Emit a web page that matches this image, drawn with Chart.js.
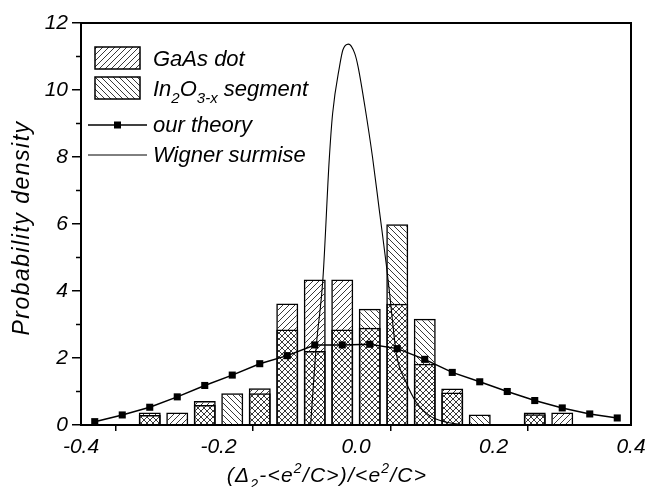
<!DOCTYPE html>
<html lang="en">
<head>
  <meta charset="UTF-8">
  <title>Probability density</title>
  <script src="https://cdn.jsdelivr.net/npm/chart.js"></script>
  <style>
    html, body { margin: 0; padding: 0; background: #fff; }
  </style>
</head>
<body>
  <canvas id="chart" width="657" height="487"></canvas>

  <script>
    // histogram bins (centre of each bin) and the two measured densities
    const binCenters = [-0.30, -0.26, -0.22, -0.18, -0.14, -0.10, -0.06, -0.02, 0.02, 0.06, 0.10, 0.14, 0.18, 0.22, 0.26, 0.30];
    const gaasDot    = [0.37, 0.37, 0.72, null, 1.10, 3.63, 4.34, 4.34, 2.90, 3.62, 1.83, 1.09, null, null, 0.37, 0.37];
    const inSegment  = [0.30, null, 0.60, 0.95, 0.95, 2.85, 2.21, 2.85, 3.47, 5.99, 3.17, 0.97, 0.31, null, 0.32, null];

    // "our theory" curve
    const theoryX = [-0.38, -0.34, -0.30, -0.26, -0.22, -0.18, -0.14, -0.10, -0.06, -0.02, 0.02, 0.06, 0.10, 0.14, 0.18, 0.22, 0.26, 0.30, 0.34, 0.38];
    const theoryY = [0.10, 0.30, 0.53, 0.84, 1.18, 1.49, 1.83, 2.07, 2.39, 2.39, 2.41, 2.28, 1.96, 1.57, 1.29, 1.00, 0.73, 0.51, 0.33, 0.21];

    // Wigner surmise
    const wignerX = [-0.066, -0.058, -0.048, -0.039, -0.034, -0.024, -0.019, -0.011, -0.002, 0.003, 0.013, 0.024, 0.034, 0.044, 0.049, 0.059, 0.073, 0.088, 0.107, 0.132, 0.160];
    const wignerY = [0, 2.3, 4.4, 7.9, 9.3, 10.7, 11.2, 11.37, 11.1, 10.7, 9.5, 8.0, 6.4, 4.8, 3.9, 2.1, 1.27, 0.67, 0.28, 0.08, 0];

    const xMin = -0.4, xMax = 0.4, xStep = 0.1;
    const yMin = 0, yMax = 12, yStep = 2;

    const FONT = "'Liberation Sans', Arial, Helvetica, sans-serif";
    const canvas = document.getElementById('chart');
    const ctx = canvas.getContext('2d');

    function makeHatch(forward) {
      const s = 6;
      const c = document.createElement('canvas');
      c.width = s; c.height = s;
      const g = c.getContext('2d');
      g.strokeStyle = '#222';
      g.lineWidth = 0.9;
      g.beginPath();
      if (forward) {           // "/"
        g.moveTo(0, s); g.lineTo(s, 0);
        g.moveTo(-1, 1); g.lineTo(1, -1);
        g.moveTo(s - 1, s + 1); g.lineTo(s + 1, s - 1);
      } else {                 // "\"
        g.moveTo(0, 0); g.lineTo(s, s);
        g.moveTo(s - 1, -1); g.lineTo(s + 1, 1);
        g.moveTo(-1, s - 1); g.lineTo(1, s + 1);
      }
      g.stroke();
      return ctx.createPattern(c, 'repeat');
    }
    const hatchGaAs = makeHatch(true);
    const hatchIn = makeHatch(false);

    const pts = (xs, ys) => xs.map((x, i) => ({ x, y: ys[i] }));

    // text with sub/superscripts: parts = [[text, 0 normal | 1 sub | 2 sup], ...]
    function richWidth(c, parts, size) {
      let w = 0;
      parts.forEach(([t, m]) => {
        c.font = `italic ${m ? Math.round(size * 0.68) : size}px ${FONT}`;
        w += c.measureText(t).width;
      });
      return w;
    }
    function drawRich(c, parts, x, y, size) {
      c.textAlign = 'left';
      c.textBaseline = 'alphabetic';
      parts.forEach(([t, m]) => {
        const sz = m ? Math.round(size * 0.68) : size;
        c.font = `italic ${sz}px ${FONT}`;
        const dy = m === 1 ? size * 0.32 : m === 2 ? -size * 0.42 : 0;
        c.fillText(t, x, y + dy);
        x += c.measureText(t).width;
      });
    }

    const decor = {
      id: 'decor',
      afterDraw(chart) {
        const c = chart.ctx;
        const a = chart.chartArea;
        const ys = chart.scales.y;
        c.save();
        c.strokeStyle = '#000';
        c.fillStyle = '#000';

        // frame
        c.lineWidth = 2;
        c.strokeRect(a.left, a.top, a.right - a.left, a.bottom - a.top);

        // minor y ticks
        c.lineWidth = 1.5;
        for (let v = yMin + yStep / 2; v < yMax; v += yStep) {
          const py = ys.getPixelForValue(v);
          c.beginPath();
          c.moveTo(a.left - 5, py);
          c.lineTo(a.left, py);
          c.stroke();
        }

        // legend
        const size = 22;
        const bx = 95, bw = 45, bh = 22, tx = 153;
        [[hatchGaAs, 58, [['GaAs dot', 0]]],
         [hatchIn, 88, [['In', 0], ['2', 1], ['O', 0], ['3-x', 1], [' segment', 0]]]
        ].forEach(([pat, cy, parts]) => {
          c.fillStyle = pat;
          c.fillRect(bx, cy - bh / 2, bw, bh);
          c.lineWidth = 1.5;
          c.strokeRect(bx, cy - bh / 2, bw, bh);
          c.fillStyle = '#000';
          drawRich(c, parts, tx, cy + 8, size);
        });
        [[125, true, 'our theory'], [155, false, 'Wigner surmise']].forEach(([cy, marker, label]) => {
          c.lineWidth = marker ? 1.5 : 1;
          c.beginPath();
          c.moveTo(88, cy);
          c.lineTo(147, cy);
          c.stroke();
          if (marker) c.fillRect(114, cy - 3.5, 7, 7);
          drawRich(c, [[label, 0]], tx, cy + 7, size);
        });

        // axis titles (slightly spaced lettering, like the scan)
        c.letterSpacing = '1.2px';
        const title = [['(\u0394', 0], ['2', 1], ['-<e', 0], ['2', 2], ['/C>)/<e', 0], ['2', 2], ['/C>', 0]];
        const tw = richWidth(c, title, 21);
        drawRich(c, title, 327 - tw / 2, 482, 21);

        c.letterSpacing = '1.5px';
        c.translate(23, 228);
        c.rotate(-Math.PI / 2);
        c.font = `italic 23px ${FONT}`;
        c.textAlign = 'center';
        c.textBaseline = 'middle';
        c.fillText('Probability density', 0, 0);
        c.restore();
      }
    };

    new Chart(ctx, {
      type: 'bar',
      data: {
        datasets: [
          {
            type: 'line', label: 'our theory', data: pts(theoryX, theoryY),
            borderColor: '#000', borderWidth: 1.5, tension: 0,
            pointStyle: 'rect', pointRadius: 5, pointBackgroundColor: '#000', pointBorderWidth: 0,
            order: 0
          },
          {
            type: 'line', label: 'Wigner surmise', data: pts(wignerX, wignerY),
            borderColor: '#000', borderWidth: 1.1, pointRadius: 0,
            cubicInterpolationMode: 'monotone', order: 0
          },
          {
            label: 'In2O3-x segment', data: pts(binCenters, inSegment),
            backgroundColor: hatchIn, borderColor: '#000', borderWidth: 1.5,
            grouped: false, barPercentage: 0.8, categoryPercentage: 1, order: 1
          },
          {
            label: 'GaAs dot', data: pts(binCenters, gaasDot),
            backgroundColor: hatchGaAs, borderColor: '#000', borderWidth: 1.5,
            grouped: false, barPercentage: 0.8, categoryPercentage: 1, order: 2
          }
        ]
      },
      options: {
        responsive: false,
        animation: false,
        layout: { padding: { top: 23, right: 26, left: 0, bottom: 0 } },
        plugins: { legend: { display: false }, tooltip: { enabled: false } },
        scales: {
          x: {
            type: 'linear', min: xMin, max: xMax, offset: false,
            afterFit: s => { s.height = 62; },
            ticks: {
              stepSize: xStep, autoSkip: false, maxRotation: 0, padding: 4,
              color: '#000', font: { family: FONT, size: 21, style: 'italic' },
              callback: (v, i) => (i % 2 === 0 ? v.toFixed(1) : '')
            },
            grid: {
              drawOnChartArea: false, tickLength: 6, lineWidth: 1.5,
              color: c => (c.index % 2 ? '#000' : 'rgba(0,0,0,0)')
            },
            border: { display: true, color: '#000', width: 2 }
          },
          y: {
            min: yMin, max: yMax,
            afterFit: s => { s.width = 81; },
            ticks: {
              stepSize: yStep, padding: 4, color: '#000',
              font: { family: FONT, size: 21, style: 'italic' }
            },
            grid: { drawOnChartArea: false, tickLength: 9, lineWidth: 1.5, color: '#000' },
            border: { display: true, color: '#000', width: 2 }
          }
        }
      },
      plugins: [decor]
    });
  </script>
</body>
</html>
